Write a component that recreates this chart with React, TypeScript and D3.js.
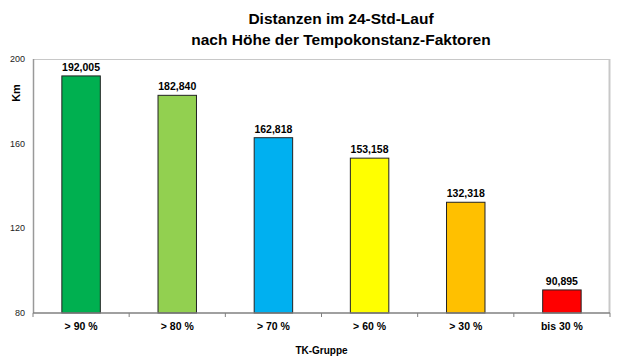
import { useEffect, useRef } from "react";
import * as d3 from "d3";

const categories = ["> 90 %", "> 80 %", "> 70 %", "> 60 %", "> 30 %", "bis 30 %"];
const distances = [192.005, 182.84, 162.818, 153.158, 132.318, 90.895];
const barColors = ["#00B050", "#92D050", "#00B0F0", "#FFFF00", "#FFC000", "#FF0000"];
const yTicks = [80, 120, 160, 200];
const titleLines = ["Distanzen im 24-Std-Lauf", "nach Höhe der Tempokonstanz-Faktoren"];

const W = 632;
const H = 363;
const margin = { top: 59, right: 22, bottom: 50, left: 33 };

const fmt = (v: number) => v.toFixed(3).replace(".", ",");

const App = () => {
    const svgRef = useRef<SVGSVGElement>(null);

    useEffect(() => {
        const svg = d3.select(svgRef.current);
        svg.selectAll("*").remove();

        const innerW = W - margin.left - margin.right;
        const innerH = H - margin.top - margin.bottom;

        const x = d3.scaleBand().domain(categories).range([0, innerW]).paddingInner(0.6).paddingOuter(0.3);
        const y = d3.scaleLinear().domain([80, 200]).range([innerH, 0]);

        const g = svg.append("g").attr("transform", `translate(${margin.left},${margin.top})`);

        // plot frame: light top/right, grey left
        g.append("line").attr("x1", 0).attr("x2", innerW).attr("y1", 0.5).attr("y2", 0.5)
            .attr("stroke", "#c8c8c8");
        g.append("line").attr("x1", innerW - 0.5).attr("x2", innerW - 0.5).attr("y1", 0).attr("y2", innerH)
            .attr("stroke", "#c8c8c8").attr("stroke-width", 2);
        g.append("line").attr("x1", 0.5).attr("x2", 0.5).attr("y1", 0).attr("y2", innerH)
            .attr("stroke", "#999").attr("stroke-width", 1.5);

        // y tick labels
        g.selectAll(".ytick")
            .data(yTicks)
            .enter()
            .append("text")
            .attr("x", -8)
            .attr("y", d => y(d))
            .attr("dy", "0.35em")
            .attr("text-anchor", "end")
            .attr("font-family", "Liberation Sans, Arial, sans-serif")
            .attr("font-size", 9)
            .attr("fill", "#222")
            .text(d => d);

        // bars
        g.selectAll(".bar")
            .data(distances)
            .enter()
            .append("rect")
            .attr("x", (d, i) => x(categories[i])!)
            .attr("y", d => y(d))
            .attr("width", x.bandwidth())
            .attr("height", d => innerH - y(d))
            .attr("fill", (d, i) => barColors[i])
            .attr("stroke", "#222")
            .attr("stroke-width", 1);

        // value labels
        g.selectAll(".val")
            .data(distances)
            .enter()
            .append("text")
            .attr("x", (d, i) => x(categories[i])! + x.bandwidth() / 2)
            .attr("y", d => y(d) - 5)
            .attr("text-anchor", "middle")
            .attr("font-family", "Liberation Sans, Arial, sans-serif")
            .attr("font-size", 10.5)
            .attr("font-weight", "bold")
            .attr("fill", "#000")
            .text(d => fmt(d));

        // x axis
        const step = innerW / categories.length;
        g.append("line").attr("x1", 0).attr("x2", innerW).attr("y1", innerH).attr("y2", innerH)
            .attr("stroke", "#808080").attr("stroke-width", 1.5);
        g.selectAll(".xtick")
            .data(d3.range(categories.length + 1))
            .enter()
            .append("line")
            .attr("x1", i => i * step)
            .attr("x2", i => i * step)
            .attr("y1", innerH)
            .attr("y2", innerH + 4)
            .attr("stroke", "#808080");
        g.selectAll(".xlab")
            .data(categories)
            .enter()
            .append("text")
            .attr("x", d => x(d)! + x.bandwidth() / 2)
            .attr("y", innerH + 17)
            .attr("text-anchor", "middle")
            .attr("font-family", "Liberation Sans, Arial, sans-serif")
            .attr("font-size", 10.5)
            .attr("font-weight", "bold")
            .text(d => d);

        // axis titles
        svg.append("text")
            .attr("x", margin.left + innerW / 2)
            .attr("y", 354)
            .attr("text-anchor", "middle")
            .attr("font-family", "Liberation Sans, Arial, sans-serif")
            .attr("font-size", 10)
            .attr("font-weight", "bold")
            .text("TK-Gruppe");
        svg.append("text")
            .attr("transform", "translate(20,93) rotate(-90)")
            .attr("text-anchor", "middle")
            .attr("font-family", "Liberation Sans, Arial, sans-serif")
            .attr("font-size", 11)
            .attr("font-weight", "bold")
            .text("Km");

        // title
        svg.selectAll(".title")
            .data(titleLines)
            .enter()
            .append("text")
            .attr("x", 341)
            .attr("y", (d, i) => 24 + i * 21)
            .attr("text-anchor", "middle")
            .attr("font-family", "Liberation Sans, Arial, sans-serif")
            .attr("font-size", 15.5)
            .attr("font-weight", "bold")
            .text(d => d);
    }, []);

    return (
        <div style={{ position: "absolute", left: 0, top: 0 }}>
            <svg ref={svgRef} width={W} height={H} style={{ display: "block", background: "#fff" }} />
        </div>
    );
};

export default App;
